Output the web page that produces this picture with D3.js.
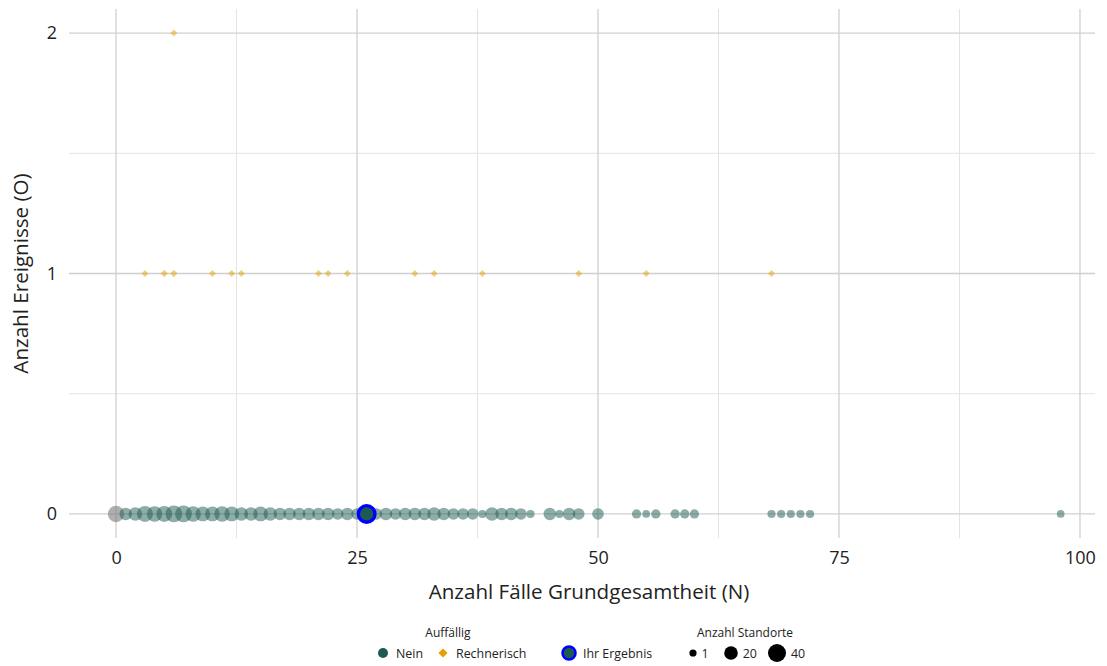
<!DOCTYPE html>
<html><head><meta charset="utf-8">
<script src="https://cdn.jsdelivr.net/npm/d3@7"></script>
<style>body{margin:0;background:#fff}svg{display:block}text{font-family:"Open Sans","Noto Sans",sans-serif}</style>
</head><body>
<svg id="c" width="1107" height="666"></svg>
<script>
// ---- data ----
const xTicks = [0, 25, 50, 75, 100];
const yTicks = [0, 1, 2];
// Unauffällig (Nein), O = 0
const neinN     = [1,2,3,4,5,6,7,8,9,10,11,12,13,14,15,16,17,18,19,20,21,22,23,24,25,27,28,29,30,31,32,33,34,35,36,37,38,39,40,41,42,43,45,46,47,48,50,54,55,56,58,59,60,68,69,70,71,72,98];
const neinCount = [16,20,30,28,30,34,34,28,25,25,28,25,20,20,25,20,16,16,16,16,16,16,13,16,13,13,16,13,16,16,16,20,16,13,13,13,3,20,16,16,13,3,16,3,16,13,13,6,2,6,6,6,6,3,3,3,3,3,2];
// Keine Angabe (grau), O = 0
const naN = [0];
const naCount = [32];
// Rechnerisch auffällig
const rechN     = [3,5,6,10,12,13,21,22,24,31,33,38,48,55,68,6];
const rechO     = [1,1,1,1,1,1,1,1,1,1,1,1,1,1,1,2];
const rechCount = [1,2,2,1,1,1,1,1,1,1,1,1,1,1,1,1];
// Ihr Ergebnis
const ihrN = [26];
const ihrO = [0];
const legendSizes = [1, 20, 40];

// ---- layout ----
const svg = d3.select("#c");
const pL = 69, pR = 1095, pT = 9, pB = 538;
const x = d3.scaleLinear().domain([-4.88, 101.56]).range([pL, pR]);
const y = d3.scaleLinear().domain([-0.1, 2.1]).range([pB, pT]);
const r = n => Math.sqrt(11.3 + 1.74 * n);

const cNein = "#1d5b52", cRech = "#e69f00", cNA = "#7a7a7a";

// gridlines
const g = svg.append("g");
const minorX = [12.5, 37.5, 62.5, 87.5], minorY = [0.5, 1.5];
g.selectAll(".mx").data(minorX).join("line")
  .attr("x1", d => x(d)).attr("x2", d => x(d)).attr("y1", pT).attr("y2", pB)
  .attr("stroke", "#e3e3e3").attr("stroke-width", 1);
g.selectAll(".my").data(minorY).join("line")
  .attr("y1", d => y(d)).attr("y2", d => y(d)).attr("x1", pL).attr("x2", pR)
  .attr("stroke", "#e3e3e3").attr("stroke-width", 1);
g.selectAll(".Mx").data(xTicks).join("line")
  .attr("x1", d => x(d)).attr("x2", d => x(d)).attr("y1", pT).attr("y2", pB)
  .attr("stroke", "#d0d0d0").attr("stroke-width", 1.3);
g.selectAll(".My").data(yTicks).join("line")
  .attr("y1", d => y(d)).attr("y2", d => y(d)).attr("x1", pL).attr("x2", pR)
  .attr("stroke", "#d0d0d0").attr("stroke-width", 1.3);

// axes (labels only)
const xa = svg.append("g").attr("transform", `translate(0,${pB})`)
  .call(d3.axisBottom(x).tickValues(xTicks).tickFormat(d3.format("d")).tickSize(0).tickPadding(13));
xa.select(".domain").remove();
xa.selectAll("text").attr("font-size", 18).attr("fill", "#222").attr("font-family", "Open Sans");
const ya = svg.append("g").attr("transform", `translate(${pL},0)`)
  .call(d3.axisLeft(y).tickValues(yTicks).tickFormat(d3.format("d")).tickSize(0).tickPadding(12));
ya.select(".domain").remove();
ya.selectAll("text").attr("font-size", 18).attr("fill", "#222").attr("font-family", "Open Sans");

svg.append("text").attr("x", 589).attr("y", 599).attr("text-anchor", "middle")
  .attr("font-size", 20.6).attr("fill", "#222").text("Anzahl Fälle Grundgesamtheit (N)");
svg.append("text").attr("transform", `translate(28,${y(1)}) rotate(-90)`).attr("text-anchor", "middle")
  .attr("font-size", 20.6).attr("fill", "#222").text("Anzahl Ereignisse (O)");

// points
const diamond = h => `M0,${-h}L${h},0L0,${h}L${-h},0Z`;
const pts = svg.append("g");
pts.selectAll(".na").data(naN.map((n, i) => ({ n, c: naCount[i] }))).join("circle")
  .attr("cx", d => x(d.n)).attr("cy", y(0)).attr("r", d => r(d.c))
  .attr("fill", cNA).attr("fill-opacity", 0.6);
pts.selectAll(".nein").data(neinN.map((n, i) => ({ n, c: neinCount[i] }))).join("circle")
  .attr("cx", d => x(d.n)).attr("cy", y(0)).attr("r", d => r(d.c))
  .attr("fill", cNein).attr("fill-opacity", 0.5);
pts.selectAll(".rech").data(rechN.map((n, i) => ({ n, o: rechO[i], c: rechCount[i] }))).join("path")
  .attr("transform", d => `translate(${x(d.n)},${y(d.o)})`).attr("d", d => diamond(r(d.c) * 0.95))
  .attr("fill", cRech).attr("fill-opacity", 0.5);
pts.selectAll(".ihr").data(ihrN.map((n, i) => ({ n, o: ihrO[i] }))).join("circle")
  .attr("cx", d => x(d.n)).attr("cy", d => y(d.o)).attr("r", 8.3)
  .attr("fill", cNein).attr("stroke", "#0000ff").attr("stroke-width", 3.4);

// legend
const L = svg.append("g");
const ly = 653, lt = 637;
L.append("text").attr("x", 448).attr("y", lt).attr("text-anchor", "middle").attr("font-size", 12).attr("fill", "#222").text("Auffällig");
L.append("circle").attr("cx", 383).attr("cy", ly).attr("r", 5).attr("fill", cNein);
L.append("text").attr("x", 396).attr("y", ly + 4.5).attr("font-size", 12.4).attr("fill", "#222").text("Nein");
L.append("path").attr("transform", `translate(443,${ly})`).attr("d", diamond(4.6)).attr("fill", cRech);
L.append("text").attr("x", 456).attr("y", ly + 4.5).attr("font-size", 12.4).attr("fill", "#222").text("Rechnerisch");
L.append("circle").attr("cx", 569).attr("cy", ly).attr("r", 6.5).attr("fill", cNein).attr("stroke", "#0000ff").attr("stroke-width", 2.6);
L.append("text").attr("x", 583).attr("y", ly + 4.5).attr("font-size", 12.4).attr("fill", "#222").text("Ihr Ergebnis");
L.append("text").attr("x", 745).attr("y", lt).attr("text-anchor", "middle").attr("font-size", 12).attr("fill", "#222").text("Anzahl Standorte");
const lx = [693, 731, 777];
legendSizes.forEach((s, i) => {
  L.append("circle").attr("cx", lx[i]).attr("cy", ly).attr("r", r(s)).attr("fill", "#000");
  L.append("text").attr("x", lx[i] + r(s) + 5).attr("y", ly + 4.5).attr("font-size", 12.4).attr("fill", "#222").text(s);
});
</script>
</body></html>
